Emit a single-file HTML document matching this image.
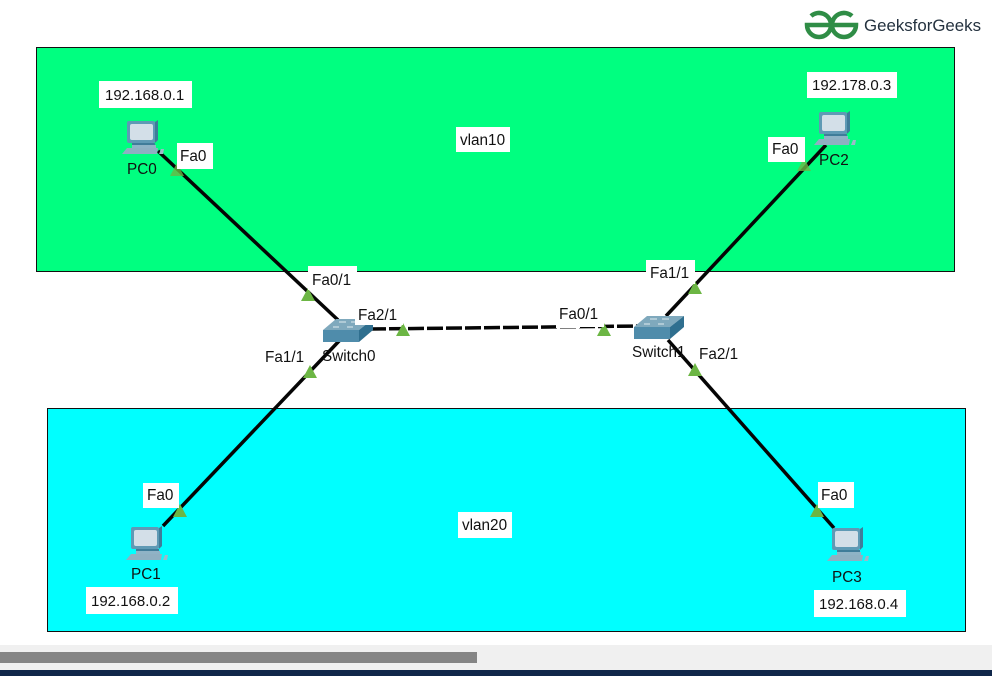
<!DOCTYPE html>
<html>
<head>
<meta charset="utf-8">
<style>
html,body{margin:0;padding:0;background:#fff;width:992px;height:676px;overflow:hidden}
svg{display:block}
text{font-family:"Liberation Sans",sans-serif;font-size:15.3px;fill:#111}
text.ip{font-size:15px}
text.vl{font-size:15.300px}
</style>
</head>
<body>
<svg width="992" height="676" viewBox="0 0 992 676" xmlns="http://www.w3.org/2000/svg">
<defs>
<g id="pc">
  <polygon points="28,2 31,0 31,20 28,23" fill="#3f7c99"/>
  <rect x="0" y="1" width="28" height="22" rx="2" fill="#5f9ab5"/>
  <rect x="3" y="4" width="23" height="16" rx="2" fill="#d3dfe8"/>
  <rect x="5" y="23" width="23" height="2" fill="#3f7c99"/>
  <rect x="5" y="25" width="24" height="3" fill="#8fb3c6"/>
  <polygon points="-5,34 0,28 31,28 30,34" fill="#8fb0c2"/>
  <polygon points="32,34 34,29 37,29 36,34" fill="#9db9c8"/>
</g>
<g id="sw">
  <polygon points="0,11 13,0 50,0 36,11" fill="#7fa9bd"/>
  <polygon points="36,11 50,0 50,11 36,23" fill="#2f6f8f"/>
  <rect x="0" y="11" width="36" height="12" fill="#4f8cab"/>
  <path d="M16,3h7M28,3h7M10,8h6M24,8h6" stroke="#dfeaf0" stroke-width="1"/>
</g>
<polygon id="tri" points="-7,6 7,6 0,-7" fill="#6cb644"/>
</defs>

<rect x="0" y="0" width="992" height="676" fill="#fff"/>

<!-- areas -->
<rect x="36.500" y="47.500" width="918" height="224" fill="#00ff80" stroke="#111" stroke-width="1"/>
<rect x="47.500" y="408.500" width="918" height="223" fill="#00ffff" stroke="#111" stroke-width="1"/>

<!-- connectors -->
<g stroke="#050505" stroke-width="3.500" fill="none">
  <line x1="158" y1="151" x2="338" y2="320"/>
  <line x1="163" y1="526" x2="340" y2="340"/>
  <line x1="666" y1="316" x2="826" y2="145"/>
  <line x1="668" y1="340" x2="834" y2="528"/>
  <line x1="370" y1="329" x2="640" y2="326" stroke-dasharray="16 3 16 3"/>
</g>
<line x1="556" y1="327.400" x2="580" y2="327.200" stroke="#fff" stroke-width="1.500"/>

<!-- devices -->
<use href="#pc" x="127" y="120"/>
<use href="#pc" x="819" y="111"/>
<use href="#pc" x="131" y="526"/>
<use href="#pc" x="832" y="527"/>
<use href="#sw" x="323" y="319"/>
<use href="#sw" x="634" y="316"/>

<!-- port triangles -->
<use href="#tri" x="177" y="170" style="opacity:.8"/>
<use href="#tri" x="308" y="295"/>
<use href="#tri" x="403" y="330"/>
<use href="#tri" x="310" y="372"/>
<use href="#tri" x="604" y="330"/>
<use href="#tri" x="695" y="288"/>
<use href="#tri" x="695" y="370"/>
<use href="#tri" x="804" y="165" style="opacity:.8"/>
<use href="#tri" x="180" y="511"/>
<use href="#tri" x="817" y="511"/>

<!-- white label backgrounds -->
<g fill="#fff">
  <rect x="99" y="81" width="93" height="27"/>
  <rect x="177" y="143" width="36" height="26"/>
  <rect x="456" y="127" width="54" height="25"/>
  <rect x="807" y="72" width="90" height="26"/>
  <rect x="768" y="137" width="37" height="25"/>
  <rect x="308" y="266" width="49" height="24"/>
  <rect x="355" y="303" width="48" height="22"/>
  <rect x="556" y="303" width="48" height="24"/>
  <rect x="646" y="260" width="49" height="24"/>
  <rect x="458" y="512" width="54" height="26"/>
  <rect x="143" y="483" width="36" height="25"/>
  <rect x="818" y="482" width="36" height="26"/>
  <rect x="86" y="587" width="92" height="27"/>
  <rect x="814" y="590" width="92" height="27"/>
</g>

<!-- labels -->
<text class="ip" x="105" y="100">192.168.0.1</text>
<text x="180" y="161">Fa0</text>
<text x="127" y="174">PC0</text>
<text class="vl" x="460" y="145">vlan10</text>
<text class="ip" x="812" y="90">192.178.0.3</text>
<text x="772" y="154">Fa0</text>
<text x="819" y="165">PC2</text>
<text x="312" y="285">Fa0/1</text>
<text x="358" y="320">Fa2/1</text>
<text x="265" y="362">Fa1/1</text>
<text x="322" y="361">Switch0</text>
<text x="559" y="319">Fa0/1</text>
<text x="650" y="278">Fa1/1</text>
<text x="632" y="357">Switch1</text>
<text x="699" y="359">Fa2/1</text>
<text class="vl" x="462" y="530">vlan20</text>
<text x="147" y="500">Fa0</text>
<text x="821" y="500">Fa0</text>
<text x="131" y="579">PC1</text>
<text x="832" y="582">PC3</text>
<text class="ip" x="91" y="606">192.168.0.2</text>
<text class="ip" x="819" y="609">192.168.0.4</text>

<!-- logo -->
<g fill="none" stroke="#2f8d46" stroke-width="4.500">
  <path d="M811,16 A12,12 0 0 1 831,25 H807 A12,12 0 0 0 831,25"/>
  <path d="M852,16 A12,12 0 0 0 832,25 H856 A12,12 0 0 1 832,25"/>
</g>
<text x="864" y="31" textLength="117" lengthAdjust="spacingAndGlyphs" style="font-size:16.500px;fill:#24323f">GeeksforGeeks</text>

<!-- bottom bars -->
<rect x="0" y="645" width="992" height="25" fill="#f0f0f0"/>
<rect x="0" y="652" width="477" height="11" fill="#858585"/>
<rect x="0" y="670" width="992" height="6" fill="#10274a"/>
</svg>
</body>
</html>
